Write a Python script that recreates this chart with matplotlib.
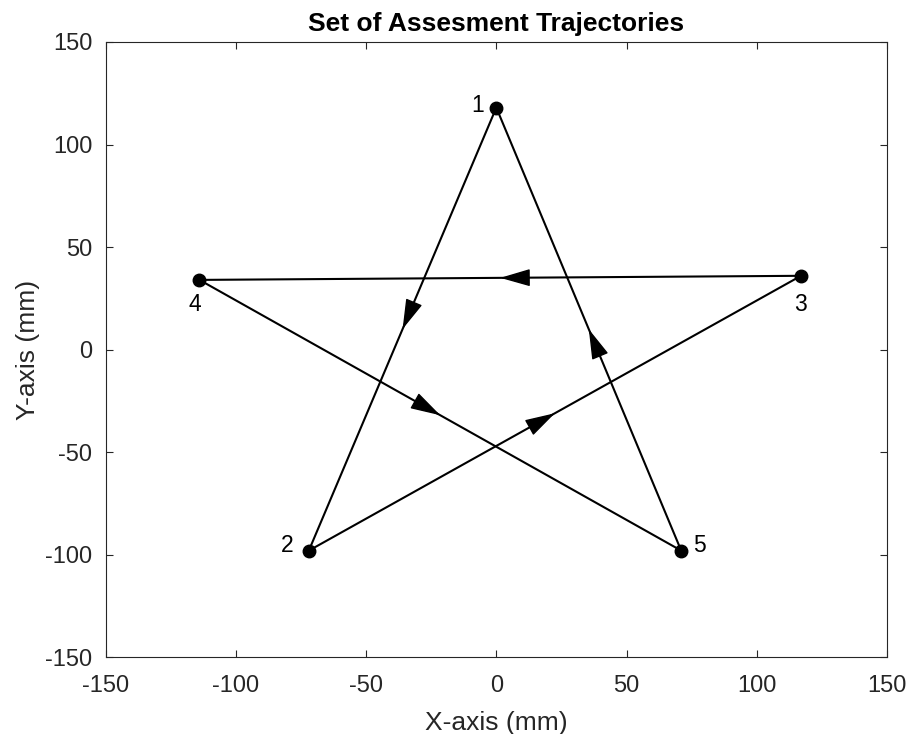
import matplotlib.pyplot as plt
from matplotlib.patches import ArrowStyle

# puntos de la estrella (mm), en orden de recorrido
etiquetas = ["1", "2", "3", "4", "5"]
x_pts = [0, -72, 117, -114, 71]
y_pts = [118, -98, 36, 34, -98]

# desplazamiento de cada etiqueta respecto a su punto (px)
off_etq = [(-19, 2), (-22, 5), (-1, -29), (-5, -25), (18, 5)]

plt.rcParams['font.family'] = ['Liberation Sans', 'DejaVu Sans']
plt.rcParams['axes.unicode_minus'] = False
gris = '#262626'

fig = plt.figure(figsize=(9.08, 7.34), dpi=100)
ax = fig.add_axes([0.1164, 0.1045, 0.8604, 0.8383])

n = len(x_pts)
flecha = ArrowStyle('-|>', head_length=1.9, head_width=0.55)
for i in range(n):
    j = (i + 1) % n
    x0, y0 = x_pts[i], y_pts[i]
    x1, y1 = x_pts[j], y_pts[j]
    ax.plot([x0, x1], [y0, y1], color='k', lw=1.5, solid_capstyle='butt')
    # punta de flecha a mitad del tramo
    xm, ym = (x0 + x1) / 2, (y0 + y1) / 2
    xa, ya = xm - 0.02 * (x1 - x0), ym - 0.02 * (y1 - y0)
    ax.annotate('', xy=(xm, ym), xytext=(xa, ya),
                arrowprops=dict(arrowstyle=flecha, mutation_scale=10,
                                color='k', lw=1.0, shrinkA=0, shrinkB=0))

ax.plot(x_pts, y_pts, 'o', color='k', markersize=9, zorder=5)

for etq, x, y, (dx, dy) in zip(etiquetas, x_pts, y_pts, off_etq):
    ax.annotate(etq, (x, y), xytext=(dx, dy), textcoords='offset pixels',
                ha='center', va='center', fontsize=16.5, color='k')

ax.set_xlim(-150, 150)
ax.set_ylim(-150, 150)
ax.set_xticks(range(-150, 151, 50))
ax.set_yticks(range(-150, 151, 50))
ax.tick_params(direction='in', top=True, right=True, length=5, width=0.8,
               color=gris, labelcolor=gris, labelsize=17)
ax.tick_params(axis='x', pad=13)
ax.tick_params(axis='y', pad=9.5)
for s in ax.spines.values():
    s.set_color(gris)
    s.set_linewidth(0.8)

ax.set_xlabel("X-axis (mm)", fontsize=19, color=gris, labelpad=10)
ax.set_ylabel("Y-axis (mm)", fontsize=19, color=gris, labelpad=4)
ax.set_title("Set of Assesment Trajectories", fontsize=19, fontweight='bold',
             pad=8)

fig.savefig('out.png', dpi=100)
